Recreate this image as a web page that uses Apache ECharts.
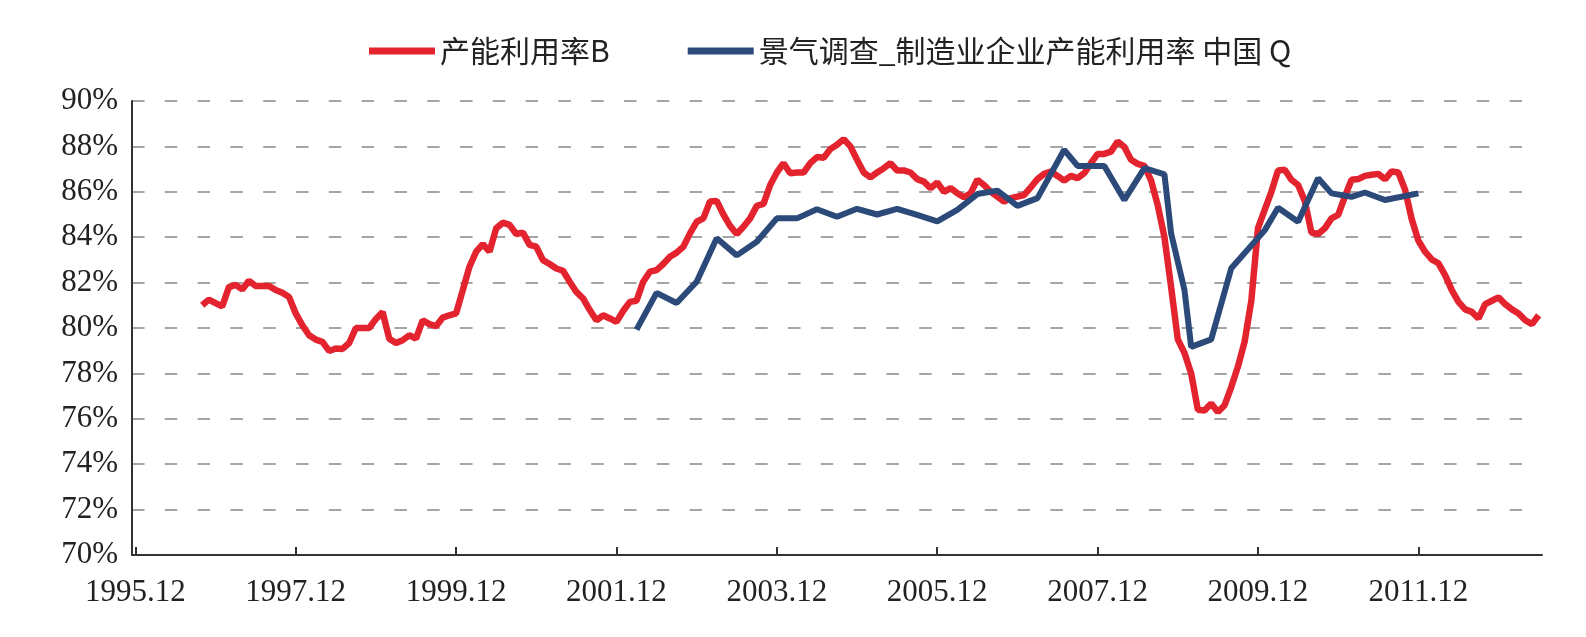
<!DOCTYPE html>
<html>
<head>
<meta charset="utf-8">
<script src="https://cdn.jsdelivr.net/npm/echarts@6/dist/echarts.min.js"></script>
<style>
html,body{margin:0;padding:0;background:#fff;}
#chart{width:1586px;height:637px;}
</style>
</head>
<body>
<div id="chart"></div>
<script>
// Monthly categories from 1995.12 to 2013.06
const startYear = 1995, startMonth = 12, monthCount = 211;
const categories = [];
for (let i = 0; i < monthCount; i++) {
  const t = (startYear * 12 + startMonth - 1) + i;
  const y = Math.floor(t / 12), m = t % 12 + 1;
  categories.push(y + '.' + (m < 10 ? '0' + m : m));
}

const seriesNames = ['产能利用率B', '景气调查_制造业企业产能利用率 中国 Q'];

// 产能利用率B, monthly, starting 1996.10
const redStart = '1996.10';
const redValues = [
  81.0, 81.25, 81.1, 80.95, 81.8, 81.9, 81.7, 82.08, 81.85, 81.85,
  81.85, 81.67, 81.55, 81.37, 80.64, 80.12, 79.68, 79.49, 79.39, 78.99,
  79.1, 79.08, 79.34, 80.0, 80.0, 80.0, 80.4, 80.7, 79.53, 79.34,
  79.46, 79.68, 79.53, 80.34, 80.17, 80.08, 80.46, 80.56, 80.64, 81.67,
  82.7, 83.36, 83.7, 83.36, 84.39, 84.64, 84.54, 84.14, 84.2, 83.66,
  83.58, 82.99, 82.82, 82.62, 82.52, 82.04, 81.59, 81.3, 80.79, 80.34,
  80.56, 80.42, 80.27, 80.75, 81.15, 81.2, 82.04, 82.48, 82.55, 82.82,
  83.14, 83.32, 83.58, 84.17, 84.68, 84.83, 85.57, 85.6, 85.0, 84.5,
  84.14, 84.46, 84.83, 85.38, 85.47, 86.3, 86.85, 87.26, 86.82, 86.85,
  86.85, 87.26, 87.53, 87.5, 87.88, 88.07, 88.32, 88.0, 87.41, 86.85,
  86.64, 86.85, 87.04, 87.26, 86.94, 86.94, 86.85, 86.56, 86.45, 86.16,
  86.41, 86.0, 86.16, 85.94, 85.76, 85.94, 86.53, 86.3, 86.0, 85.79,
  85.57, 85.72, 85.79, 85.86, 86.2, 86.56, 86.79, 86.89, 86.7, 86.49,
  86.7, 86.6, 86.82, 87.26, 87.67, 87.67, 87.77, 88.22, 87.97, 87.41,
  87.23, 87.14, 86.5, 85.4, 84.0, 81.8, 79.5, 78.9, 78.0, 76.4,
  76.37, 76.67, 76.3, 76.6, 77.4, 78.3, 79.4, 81.2, 84.4, 85.2,
  86.0, 86.94, 86.97, 86.53, 86.3, 85.6, 84.2, 84.14, 84.39, 84.83,
  84.98, 85.79, 86.53, 86.56, 86.7, 86.75, 86.79, 86.55, 86.9, 86.85,
  86.1, 84.8, 83.85, 83.36, 83.02, 82.85, 82.33, 81.67, 81.15, 80.82,
  80.71, 80.42, 81.05, 81.2, 81.35, 81.05, 80.82, 80.64, 80.34, 80.17,
  80.56
];

// 景气调查 制造业企业产能利用率 (survey points)
const blueDates = [
  '2002.03','2002.06','2002.09','2002.12','2003.03','2003.06','2003.09','2003.12',
  '2004.03','2004.06','2004.09','2004.12','2005.03','2005.06','2005.09','2005.12',
  '2006.03','2006.06','2006.09','2006.12','2007.03','2007.07','2007.09','2008.01',
  '2008.04','2008.07','2008.10','2008.11','2009.01','2009.02','2009.05','2009.08',
  '2010.01','2010.03','2010.06','2010.09','2010.11','2011.02','2011.04','2011.07',
  '2011.12'
];
const blueValues = [
  79.93, 81.55, 81.1, 82.04, 83.95, 83.2, 83.8, 84.83,
  84.83, 85.23, 84.9, 85.25, 85.0, 85.25, 84.98, 84.7,
  85.2, 85.9, 86.05, 85.38, 85.72, 87.85, 87.14, 87.14,
  85.64, 87.04, 86.77, 84.17, 81.67, 79.17, 79.5, 82.63,
  84.3, 85.3, 84.68, 86.6, 85.93, 85.78, 85.97, 85.64,
  85.93
];

const yTicks = { min: 70, max: 90, step: 2 };
const labelEvery = 24;

const redOffset = categories.indexOf(redStart);
const redData = redValues.map((v, i) => [categories[redOffset + i], v]);
const blueData = blueDates.map((d, i) => [d, blueValues[i]]);

const chart = echarts.init(document.getElementById('chart'), null, { renderer: 'canvas' });
const serif = '"Liberation Serif", "Times New Roman", serif';
chart.setOption({
  animation: false,
  backgroundColor: '#ffffff',
  legend: {
    left: 364,
    top: 31,
    itemGap: 78,
    itemWidth: 66,
    itemHeight: 7,
    icon: 'rect',
    textStyle: { fontFamily: '"Noto Sans CJK SC", sans-serif', fontSize: 30, color: '#222' },
    data: [
      { name: seriesNames[0], itemStyle: { color: '#E3232E' } },
      { name: seriesNames[1], itemStyle: { color: '#2B4A7A' } }
    ]
  },
  grid: { left: 132, right: 44, top: 101, bottom: 82, containLabel: false },
  xAxis: {
    type: 'category',
    data: categories,
    boundaryGap: true,
    axisLine: { lineStyle: { color: '#333', width: 2 } },
    axisTick: {
      show: true, inside: true, length: 8, alignWithLabel: true,
      interval: labelEvery - 1,
      lineStyle: { color: '#333', width: 2 }
    },
    axisLabel: { interval: labelEvery - 1, margin: 22, fontFamily: serif, fontSize: 31, color: '#222' },
    splitLine: { show: false }
  },
  yAxis: {
    type: 'value',
    min: yTicks.min,
    max: yTicks.max,
    interval: yTicks.step,
    axisLine: { show: true, lineStyle: { color: '#333', width: 2 } },
    axisTick: { show: false },
    axisLabel: { formatter: '{value}%', margin: 14, fontFamily: serif, fontSize: 31, color: '#222' },
    splitLine: { show: true, lineStyle: { color: '#888', width: 1.5, type: [12.5, 20.3] } }
  },
  series: [
    {
      name: seriesNames[0],
      type: 'line',
      data: redData,
      showSymbol: false,
      symbol: 'none',
      lineStyle: { color: '#E3232E', width: 6.5 },
      itemStyle: { color: '#E3232E' },
      z: 2
    },
    {
      name: seriesNames[1],
      type: 'line',
      data: blueData,
      showSymbol: false,
      symbol: 'none',
      lineStyle: { color: '#2B4A7A', width: 6 },
      itemStyle: { color: '#2B4A7A' },
      z: 3
    }
  ]
});
</script>
</body>
</html>
